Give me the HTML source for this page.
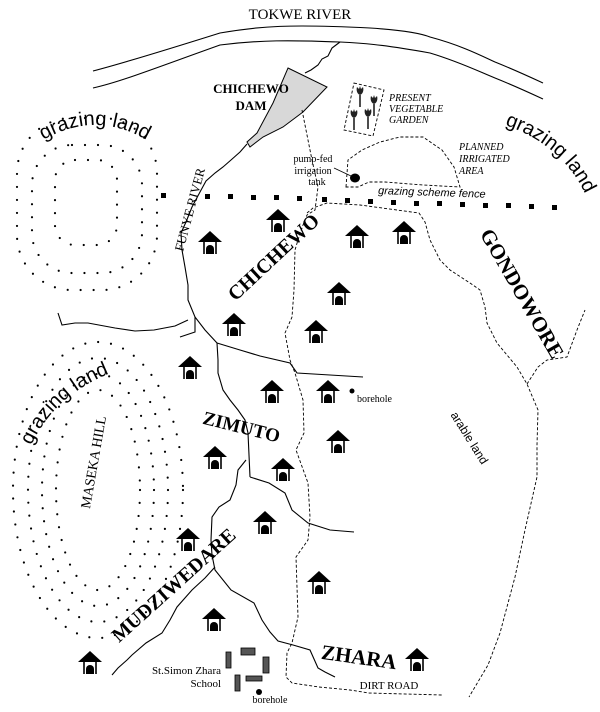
<!DOCTYPE html>
<html><head><meta charset="utf-8"><style>
html,body{margin:0;padding:0;background:#fff}
svg{display:block}
.s{font-family:"Liberation Serif",serif}
.a{font-family:"Liberation Sans",sans-serif}
</style></head><body>
<svg width="600" height="712" viewBox="0 0 600 712" xmlns="http://www.w3.org/2000/svg">
<defs>
<g id="h">
<path d="M0,-12 L-12,-1 L12,-1 Z" fill="#000"/>
<line x1="-6" y1="-1" x2="-6" y2="11" stroke="#000" stroke-width="1.6"/>
<line x1="6" y1="-1" x2="6" y2="11" stroke="#000" stroke-width="1.6"/>
<path d="M-4,11 L-4,6 A4,4 0 0 1 4,6 L4,11 Z" fill="#000"/>
</g>
<g id="fl"><path d="M0,0 C-3,-1 -4,-5 -3,-8 L-1,-6 L0,-9 L1,-6 L3,-8 C4,-5 3,-1 0,0 Z" fill="#222"/><line x1="0" y1="0" x2="0" y2="12" stroke="#000" stroke-width="1.4"/></g>
</defs>
<g fill="none" stroke="#000" stroke-width="1.1">
<path d="M93,71 C120,64 150,55 220,33 C260,26 290,24 370,28 C400,30 420,33 430,37 C460,45 480,55 495,62 C515,70 530,77 543,83"/>
<path d="M93,88 C120,82 150,70 220,45 C260,40 290,40 340,42 C360,43 380,44 430,53 C460,62 480,72 495,78 C515,86 530,93 543,99"/>
<path d="M340,42 L332,48 L328,56 L322,59 L318,65 L311,70 L305,73"/>
<path d="M247,144 L240,152 L231,160 L223,167 L215,173 L206,181 L200,192 L192,207 L186,222 L181,233 L182,250 L185,267 L188,285 L188,300 L195,317 L205,330 L217,343 L218,360 L218,373 L223,390 L230,400 L238,410 L245,420 L248,433 L249,455 L250,477"/>
<path d="M195,317 L195,332 L180,337"/>
<path d="M58,313 L62,325 L75,323 L88,323 L115,328 L135,331 L154,330 L175,326 L188,320"/>
<path d="M217,343 L240,350 L260,356 L290,363 L297,373 L330,375 L363,377"/>
<path d="M250,477 L269,483 L285,493 L292,510 L308,523 L330,530 L354,532"/>
<path d="M246,460 L238,470 L236,485 L230,500 L219,507 L212,517 L211,540 L212,555 L215,570 L231,590 L254,603 L262,620 L270,632 L278,641 L293,645 L310,650 L318,668 L325,672 L335,677"/>
<path d="M215,567 L205,578 L192,590 L177,607 L170,620 L162,633 L146,643 L132,655 L127,660 L118,668 L112,675"/>
</g>
<path d="M288,68 L327,87 L303,112 L283,127 L263,137 L250,147 L247,142 L257,133 L273,103 Z" fill="#d8d8d8" stroke="#000" stroke-width="1"/>
<g fill="none" stroke="#000" stroke-width="0.9" stroke-dasharray="3,2">
<path d="M302,110 L307,135 L312,160 L318,187 L315,210 L307,215 L303,225 L298,240 L295,250 L294,290 L292,317 L285,333 L290,360 L295,373 L303,400 L304,433 L296,450 L308,483 L310,517 L308,540 L296,557 L298,617 L292,643 L287,653 L286,677 L292,683 L319,687 L350,690 L369,693 L442,695"/>
<path d="M307,213 L313,208 L327,203 L360,205 L419,213 L425,222 L430,240 L440,260 L450,270 L470,283 L480,290 L485,307 L487,323 L497,343 L517,367 L527,384 L538,410 L537,445 L537,477 L525,530 L515,577 L500,633 L488,665 L469,697"/>
<path d="M527,384 L538,367 L547,360 L567,357 L577,330 L585,310"/>
<path d="M346,187 L348,160 L362,150 L380,142 L400,137 L423,137 L442,150 L454,167 L460,187 L423,185 L385,182 L369,182 L358,187 Z"/>
<path d="M354,83 L384,90 L373,136 L344,130 Z"/>
</g>
<use href="#fl" x="360" y="95"/><use href="#fl" x="374" y="104"/><use href="#fl" x="354" y="118"/><use href="#fl" x="368" y="117"/>
<ellipse cx="355" cy="178" rx="5" ry="4.5" fill="#000"/>
<line x1="334" y1="168" x2="351" y2="176" stroke="#000" stroke-width="0.8"/>
<g fill="#000">
<rect x="161" y="193" width="5" height="5"/><rect x="205" y="194" width="5" height="5"/><rect x="228" y="194" width="5" height="5"/><rect x="251" y="195" width="5" height="5"/><rect x="274" y="195" width="5" height="5"/><rect x="297" y="196" width="5" height="5"/><rect x="322" y="197" width="5" height="5"/><rect x="345" y="198" width="5" height="5"/><rect x="368" y="199" width="5" height="5"/><rect x="391" y="200" width="5" height="5"/><rect x="414" y="201" width="5" height="5"/><rect x="437" y="201" width="5" height="5"/><rect x="460" y="202" width="5" height="5"/><rect x="483" y="203" width="5" height="5"/><rect x="506" y="203" width="5" height="5"/><rect x="529" y="204" width="5" height="5"/><rect x="552" y="205" width="5" height="5"/>
</g>
<g fill="none" stroke="#000" stroke-width="2.2" stroke-linecap="round" stroke-dasharray="0 13">
<rect x="17" y="118" width="140" height="172" rx="55"/>
<rect x="32" y="145" width="110" height="128" rx="40"/>
<rect x="55" y="160" width="62" height="85" rx="20"/>
<ellipse cx="98" cy="490" rx="85" ry="148"/>
<ellipse cx="98" cy="490" rx="70" ry="132"/>
<ellipse cx="98" cy="490" rx="56" ry="116"/>
<ellipse cx="98" cy="490" rx="42" ry="100"/>
</g>
<use href="#h" x="278" y="221"/><use href="#h" x="210" y="243"/><use href="#h" x="357" y="237"/><use href="#h" x="404" y="233"/>
<use href="#h" x="339" y="294"/><use href="#h" x="234" y="325"/><use href="#h" x="316" y="332"/>
<use href="#h" x="190" y="368"/><use href="#h" x="272" y="392"/><use href="#h" x="328" y="392"/>
<use href="#h" x="338" y="442"/><use href="#h" x="215" y="458"/><use href="#h" x="283" y="470"/>
<use href="#h" x="265" y="523"/><use href="#h" x="188" y="540"/><use href="#h" x="319" y="583"/>
<use href="#h" x="214" y="620"/><use href="#h" x="90" y="663"/><use href="#h" x="417" y="660"/>
<g fill="#555" stroke="#000" stroke-width="0.8">
<rect x="226" y="652" width="5" height="16"/><rect x="241" y="648" width="14" height="7"/><rect x="263" y="657" width="6" height="16"/><rect x="235" y="675" width="5" height="16"/><rect x="246" y="676" width="16" height="5"/>
</g>
<circle cx="259" cy="692" r="3" fill="#000"/>
<circle cx="352" cy="391" r="2.5" fill="#000"/>
<g class="s" fill="#000">
<text x="300" y="19" font-size="15" text-anchor="middle">TOKWE RIVER</text>
<text x="251" y="93" font-size="13" text-anchor="middle" font-weight="bold">CHICHEWO</text>
<text x="251" y="110" font-size="13" text-anchor="middle" font-weight="bold">DAM</text>
<text x="313" y="162" font-size="10" text-anchor="middle">pump-fed</text>
<text x="313" y="174" font-size="10" text-anchor="middle">irrigation</text>
<text x="317" y="185" font-size="10" text-anchor="middle">tank</text>
<g font-style="italic" font-size="10">
<text x="389" y="101">PRESENT</text><text x="389" y="112">VEGETABLE</text><text x="389" y="123">GARDEN</text>
<text x="459" y="150">PLANNED</text><text x="459" y="162">IRRIGATED</text><text x="459" y="174">AREA</text>
</g>
<text font-size="13" transform="translate(183,252) rotate(-75)">FUNYE RIVER</text>
<text font-size="20" font-weight="bold" text-anchor="middle" transform="translate(278,262) rotate(-43)">CHICHEWO</text>
<text font-size="21" font-weight="bold" text-anchor="middle" transform="translate(516,297) rotate(60)">GONDOWORE</text>
<text font-size="19" font-weight="bold" text-anchor="middle" transform="translate(240,433) rotate(14)">ZIMUTO</text>
<text font-size="14" text-anchor="middle" transform="translate(98,463) rotate(-80)">MASEKA HILL</text>
<text font-size="20" font-weight="bold" text-anchor="middle" transform="translate(178,590) rotate(-42)">MUDZIWEDARE</text>
<text font-size="21" font-weight="bold" text-anchor="middle" transform="translate(358,664) rotate(8)">ZHARA</text>
<text x="357" y="402" font-size="10">borehole</text>
<text x="270" y="703" font-size="10" text-anchor="middle">borehole</text>
<text x="221" y="674" font-size="11" text-anchor="end">St.Simon Zhara</text>
<text x="221" y="687" font-size="11" text-anchor="end">School</text>
<text x="389" y="689" font-size="11" text-anchor="middle">DIRT ROAD</text>
</g>
<g class="a" fill="#000">
<text x="378" y="194" font-size="11" font-style="italic" transform="rotate(2 378 194)">grazing scheme fence</text>
<text font-size="12" text-anchor="middle" transform="translate(466,440) rotate(58)">arable land</text>
<path id="g1" d="M22,155 Q95,95 168,155" fill="none"/>
<text font-size="20"><textPath href="#g1" startOffset="50%" text-anchor="middle">grazing land</textPath></text>
<path id="g2" d="M480,118 Q572,138 594,218" fill="none"/>
<text font-size="20"><textPath href="#g2" startOffset="50%" text-anchor="middle">grazing land</textPath></text>
<path id="g3" d="M23,468 Q45,390 132,366" fill="none"/>
<text font-size="20"><textPath href="#g3" startOffset="50%" text-anchor="middle">grazing land</textPath></text>
</g>
</svg>
</body></html>
